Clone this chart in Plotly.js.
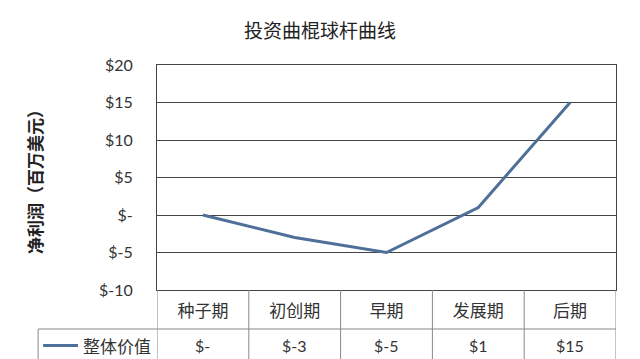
<!DOCTYPE html>
<html>
<head>
<meta charset="utf-8">
<script src="https://cdn.plot.ly/plotly-3.0.1.min.js"></script>
<style>html,body{margin:0;padding:0;background:#fff;}#chart{width:640px;height:359px;}</style>
</head>
<body>
<div id="chart"></div>
<script>
const categories = ['种子期', '初创期', '早期', '发展期', '后期'];
const values = [0, -3, -5, 1, 15];
const seriesName = '整体价值';
const yTickVals = [-10, -5, 0, 5, 10, 15, 20];
const yTickText = ['$-10', '$-5', '$-', '$5', '$10', '$15', '$20'];
const chartTitle = '投资曲棍球杆曲线';
const yTitle = '净利润（百万美元）';

const fmt = v => v === 0 ? '$-' : '$' + v;
const lineColor = '#4E6F98';
const gridColor = '#444';
const cjk = '"Noto Sans CJK SC", sans-serif';
const num = 'Lato, "Open Sans", sans-serif';

const rowTop = -0.1733, rowBot = -0.31, legLeft = -0.259;
const shapes = [];
shapes.push({type:'line', xref:'paper', yref:'paper', x0:legLeft, x1:1, y0:rowTop, y1:rowTop, line:{color:'#888', width:1}});
shapes.push({type:'line', xref:'paper', yref:'paper', x0:legLeft, x1:legLeft, y0:rowTop, y1:rowBot, line:{color:'#888', width:1}});
for (let k = 0; k <= categories.length; k++) {
  shapes.push({type:'line', xref:'x', yref:'paper', x0:k-0.5, x1:k-0.5, y0:0, y1:rowBot, line:{color:'#888', width:1}});
}
shapes.push({type:'line', xref:'paper', yref:'paper', x0:-0.248, x1:-0.172, y0:-0.247, y1:-0.247, line:{color:lineColor, width:3}});

const annotations = [];
annotations.push({xref:'paper', yref:'paper', x:-0.088, y:-0.247, text:seriesName, showarrow:false, xanchor:'center', yanchor:'middle', font:{family:cjk, size:17, color:'#333'}});
categories.forEach((c, i) => {
  annotations.push({xref:'x', yref:'paper', x:i, y:-0.247, text:fmt(values[i]), showarrow:false, xanchor:'center', yanchor:'middle', font:{family:num, size:16, color:'#333'}});
});

const data = [{
  type:'scatter', mode:'lines', x:categories, y:values, name:seriesName,
  line:{color:lineColor, width:3}, showlegend:false, hoverinfo:'skip'
}];

const layout = {
  width:640, height:359,
  margin:{l:157, r:24, t:65, b:69},
  paper_bgcolor:'#fff', plot_bgcolor:'#fff',
  title:{text:chartTitle, x:0.5, xanchor:'center', y:0.912, yanchor:'middle', font:{family:cjk, size:19, color:'#222'}},
  xaxis:{type:'category', range:[-0.5, 4.5], showgrid:false, zeroline:false, showline:true, linecolor:gridColor, linewidth:1, mirror:true,
    ticks:'', tickfont:{family:cjk, size:17, color:'#333'}, ticklabelstandoff:6, fixedrange:true},
  yaxis:{range:[-10, 20], tickvals:yTickVals, ticktext:yTickText, showgrid:true, gridcolor:gridColor, gridwidth:1, zeroline:false,
    showline:true, linecolor:gridColor, linewidth:1, mirror:true, ticks:'', ticklabelstandoff:20,
    tickfont:{family:num, size:16, color:'#333'},
    title:{text:yTitle, standoff:52, font:{family:cjk, size:17, color:'#222', weight:'bold'}}, fixedrange:true},
  shapes:shapes, annotations:annotations
};

Plotly.newPlot('chart', data, layout, {displayModeBar:false, staticPlot:true});
</script>
</body>
</html>
